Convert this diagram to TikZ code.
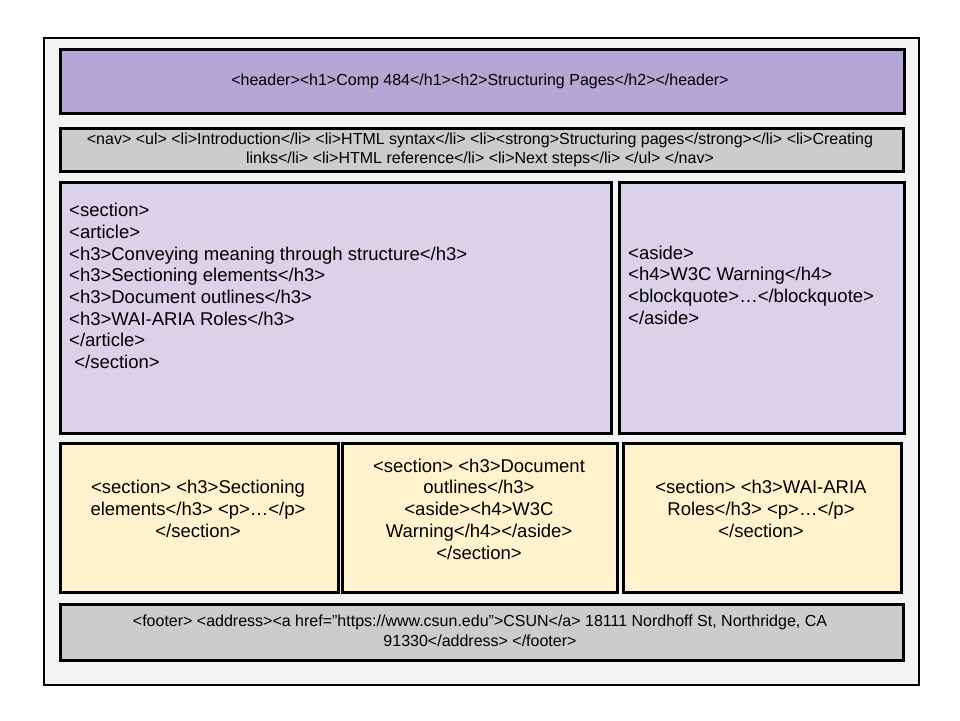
\documentclass[tikz,border=0pt]{standalone}
\usepackage{fontspec}
\setmainfont{Liberation Sans}
\definecolor{bgc}{HTML}{F3F3F3}
\definecolor{hdrc}{HTML}{B4A7D6}
\definecolor{secc}{HTML}{D9D2E9}
\definecolor{yelc}{HTML}{FFF2CC}
\definecolor{gryc}{HTML}{CCCCCC}
\tikzset{
  box/.style={draw=black, line width=2.6pt, rectangle, anchor=north west, inner sep=0pt},
  smalltxt/.style={font=\fontsize{16}{19.5}\selectfont, align=center, inner sep=0pt},
  bigtxt/.style={font=\fontsize{18.5}{21.7}\selectfont, inner sep=0pt},
}
\begin{document}
\begin{tikzpicture}[x=1pt,y=-1pt]
\useasboundingbox (0,0) rectangle (960,720);
\fill[white] (0,0) rectangle (960,720);
\node[box, fill=bgc, minimum width=875pt, minimum height=647pt] (outer) at (42.5,36.5) {};
% boxes
\node[box, fill=hdrc, minimum width=844pt, minimum height=64pt] (hdr) at (59,48) {};
\node[box, fill=gryc, minimum width=843pt, minimum height=43pt] (nav) at (59,127) {};
\node[box, fill=secc, minimum width=551pt, minimum height=251pt] (sec) at (59,181) {};
\node[box, fill=secc, minimum width=285pt, minimum height=251pt] (asd) at (618,181) {};
\node[box, fill=yelc, minimum width=278pt, minimum height=149pt] (b1) at (59,442) {};
\node[box, fill=yelc, minimum width=275pt, minimum height=149pt] (b2) at (341,442) {};
\node[box, fill=yelc, minimum width=278pt, minimum height=149pt] (b3) at (622,442) {};
\node[box, fill=gryc, minimum width=843pt, minimum height=56pt] (ftr) at (59,603) {};
% texts
\node[smalltxt] (hdrt) at (480,81) {<header><h1>Comp 484</h1><h2>Structuring Pages</h2></header>};
\node[smalltxt] (navt) at (480,150) {<nav> <ul> <li>Introduction</li> <li>HTML syntax</li> <li><strong>Structuring pages</strong></li> <li>Creating\\links</li> <li>HTML reference</li> <li>Next steps</li> </ul> </nav>};
\node[bigtxt, align=left, anchor=west] (sect) at (69,286) {<section>\\<article>\\<h3>Conveying meaning through structure</h3>\\<h3>Sectioning elements</h3>\\<h3>Document outlines</h3>\\<h3>WAI-ARIA Roles</h3>\\</article>\\\ </section>};
\node[bigtxt, align=left, anchor=west] (asdt) at (628,285) {<aside>\\<h4>W3C Warning</h4>\\<blockquote>…</blockquote>\\</aside>};
\node[bigtxt, align=center] (b1t) at (198,509) {<section> <h3>Sectioning\\elements</h3> <p>…</p>\\</section>};
\node[bigtxt, align=center] (b2t) at (479,509) {<section> <h3>Document\\outlines</h3>\\<aside><h4>W3C\\Warning</h4></aside>\\</section>};
\node[bigtxt, align=center] (b3t) at (761,509) {<section> <h3>WAI-ARIA\\Roles</h3> <p>…</p>\\</section>};
\node[smalltxt] (ftrt) at (480,631) {<footer> <address><a href="https://www.csun.edu">CSUN</a> 18111 Nordhoff St, Northridge, CA\\91330</address> </footer>};
\end{tikzpicture}
\end{document}
